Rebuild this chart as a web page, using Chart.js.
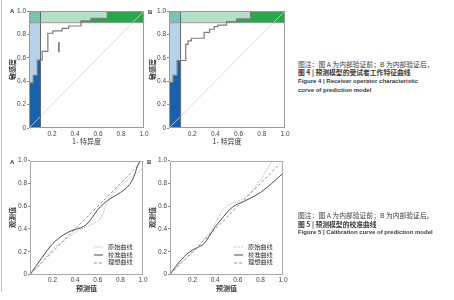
<!DOCTYPE html>
<html>
<head>
<meta charset="utf-8">
<script src="https://cdn.jsdelivr.net/npm/chart.js@4.4.1/dist/chart.umd.min.js"></script>
<style>
body { margin: 0; background: #fff; }
#page { position: relative; width: 454px; height: 300px; overflow: hidden; font-family: "Noto Sans CJK SC", "Liberation Sans", sans-serif; color: #333; }
.box { position: absolute; }
.edge { position: absolute; left: 1px; top: 0; width: 1px; height: 292px; background: #c4c4c4; }
.tag { position: absolute; font: bold 6px "Liberation Sans", sans-serif; color: #333; line-height: 8px; }
.cap { position: absolute; left: 298px; white-space: nowrap; font-size: 6.8px; line-height: 9px; color: #3a3a3a; }
.cap.b { font-weight: bold; }
.cap.en { font-family: "Liberation Sans", sans-serif; font-weight: bold; font-size: 6px; }
.legend { position: absolute; font-size: 6.2px; line-height: 7.7px; color: #333; }
.legend div { white-space: nowrap; height: 7.7px; }
.legend svg { vertical-align: middle; margin-right: 5px; }
</style>
</head>
<body>
<div id="page">
  <div class="edge"></div>

  <div class="box" style="left:0;top:0"><canvas id="rocA" width="150" height="146"></canvas></div>
  <div class="box" style="left:140px;top:0"><canvas id="rocB" width="150" height="146"></canvas></div>
  <div class="box" style="left:0;top:150px"><canvas id="calA" width="150" height="143"></canvas></div>
  <div class="box" style="left:140px;top:150px"><canvas id="calB" width="150" height="143"></canvas></div>

  <div class="tag" style="left:10px;top:7px">A</div>
  <div class="tag" style="left:148px;top:8px">B</div>
  <div class="tag" style="left:10px;top:158px">A</div>
  <div class="tag" style="left:147px;top:158px">B</div>

  <div class="legend" id="legA" style="left:94px;top:243px"></div>
  <div class="legend" id="legB" style="left:234px;top:243px"></div>

  <div class="cap" style="top:59.5px">图注：图 A 为内部验证前；B 为内部验证后，</div>
  <div class="cap b" style="top:68.2px">图 4 | 预测模型的受试者工作特征曲线</div>
  <div class="cap en" style="top:77.2px">Figure 4 | Receiver operator characteristic</div>
  <div class="cap en" style="top:86.2px">curve of prediction model</div>

  <div class="cap" style="top:210.5px">图注：图 A 为内部验证前；B 为内部验证后。</div>
  <div class="cap b" style="top:219.5px">图 5 | 预测模型的校准曲线</div>
  <div class="cap en" style="top:227.8px">Figure 5 | Calibration curve of prediction model</div>
</div>

<script>
// thresholds used for the shaded partial-AUC regions
const fprCut = 0.1;
const tprCut = 0.9;

// ROC A (internal validation before)
const rocAFpr = [0, 0, 0.037, 0.072, 0.115, 0.164, 0.207, 0.288, 0.345, 0.452, 0.538, 0.681, 1];
const rocATpr = [0, 0.385, 0.45, 0.58, 0.655, 0.81, 0.83, 0.852, 0.872, 0.915, 0.938, 1, 1];
// ROC B (internal validation after)
const rocBFpr = [0, 0, 0.035, 0.07, 0.144, 0.164, 0.193, 0.303, 0.35, 0.39, 0.42, 0.496, 0.582, 0.703, 1];
const rocBTpr = [0, 0.39, 0.449, 0.577, 0.715, 0.744, 0.767, 0.818, 0.844, 0.866, 0.88, 0.909, 0.932, 1, 1];
// text cursor left on the A panel
const cursorA = { x: 0.26, y: 0.69 };

// calibration A
const calAOrigX = [0, 0.1, 0.2, 0.3, 0.4, 0.5, 0.6, 0.64, 0.68, 0.75, 0.85, 0.9, 1.0];
const calAOrigY = [0, 0.1, 0.22, 0.3, 0.37, 0.42, 0.47, 0.52, 0.63, 0.73, 0.82, 0.86, 0.93];
const calACalX = [0, 0.1, 0.2, 0.3, 0.38, 0.45, 0.5, 0.55, 0.6, 0.65, 0.7, 0.8, 0.88, 0.92, 0.95, 0.97];
const calACalY = [0, 0.14, 0.27, 0.35, 0.39, 0.41, 0.44, 0.5, 0.57, 0.62, 0.66, 0.72, 0.79, 0.86, 0.95, 0.99];
// calibration B
const calBOrigX = [0, 0.1, 0.2, 0.25, 0.3, 0.35, 0.4, 0.45, 0.5, 0.55, 0.6, 0.7, 0.8, 0.9, 0.91];
const calBOrigY = [0, 0.11, 0.19, 0.24, 0.31, 0.37, 0.45, 0.54, 0.6, 0.625, 0.64, 0.71, 0.83, 0.99, 1.0];
const calBCalX = [0, 0.05, 0.1, 0.15, 0.2, 0.25, 0.3, 0.35, 0.4, 0.45, 0.5, 0.55, 0.6, 0.65, 0.7, 0.8, 0.9, 1.0];
const calBCalY = [0, 0.07, 0.13, 0.18, 0.215, 0.24, 0.27, 0.34, 0.42, 0.48, 0.54, 0.59, 0.62, 0.64, 0.665, 0.72, 0.8, 0.89];
// ideal line
const idealX = [0, 0.97];
const idealY = [0, 0.97];

const calLabels = ['原始曲线', '校准曲线', '理想曲线'];
const rocXTitle = '1- 特异度';
const rocYTitle = '敏感度';
const calXTitle = '预测值';
const calYTitle = '观测值';

function zip(xs, ys) {
    return xs.map((x, i) => ({ x: x, y: ys[i] }));
}

function staircase(xs, ys) {
    const pts = [{ x: xs[0], y: ys[0] }];
    for (let i = 1; i < xs.length; i++) {
        pts.push({ x: xs[i], y: ys[i - 1] });
        pts.push({ x: xs[i], y: ys[i] });
    }
    return pts;
}

const framePlugin = {
    id: 'frame',
    afterDatasetsDraw(chart, args, opts) {
        const a = chart.chartArea;
        const ctx = chart.ctx;
        ctx.save();
        ctx.strokeStyle = opts.color || '#999';
        ctx.lineWidth = 1;
        ctx.strokeRect(Math.round(a.left) + 0.5, Math.round(a.top) + 0.5,
            Math.round(a.right - a.left) - 1, Math.round(a.bottom - a.top) - 1);
        ctx.restore();
    }
};

function axis(which, title, size, weight) {
    return {
        type: 'linear',
        min: 0,
        max: 1,
        ticks: {
            stepSize: 0.2,
            padding: which === 'y' ? 1 : 2,
            color: '#444',
            autoSkip: false,
            maxRotation: 0,
            font: { family: 'Liberation Sans', size: 6.5 },
            callback: v => v === 0 ? (which === 'y' ? '0' : '') : v.toFixed(1)
        },
        grid: { display: true, drawOnChartArea: false, drawTicks: which === 'y', tickLength: 2, color: '#888' },
        border: { display: false },
        title: {
            display: true,
            text: title,
            padding: 0,
            color: '#333',
            font: { family: 'Noto Sans CJK SC', size: 7, weight: weight }
        },
        afterFit: s => {
            if (which === 'y') s.width = size; else s.height = size;
            s.paddingLeft = 0; s.paddingRight = 0; s.paddingTop = 0; s.paddingBottom = 0;
        }
    };
}

function makeChart(id, datasets, xTitle, yTitle, lay) {
    return new Chart(document.getElementById(id), {
        type: 'scatter',
        data: { datasets: datasets },
        options: {
            responsive: false,
            animation: false,
            events: [],
            layout: { padding: { left: lay.pl, top: lay.pt, right: lay.pr, bottom: 0 } },
            elements: { point: { radius: 0 } },
            plugins: {
                legend: { display: false },
                tooltip: { enabled: false },
                frame: { color: lay.frame }
            },
            scales: {
                x: axis('x', xTitle, lay.xh, lay.xWeight),
                y: axis('y', yTitle, lay.yw, 'bold')
            }
        },
        plugins: [framePlugin]
    });
}

function rocDatasets(fpr, tpr, cursor) {
    const curve = staircase(fpr, tpr);
    const low = curve.filter(p => p.x <= fprCut);
    low.push({ x: fprCut, y: low[low.length - 1].y });
    const high = curve.map(p => ({ x: p.x, y: Math.max(p.y, tprCut) }));
    const area = { showLine: true, borderWidth: 0, borderColor: 'transparent' };
    const ds = [
        Object.assign({ data: [{ x: 0, y: 1 }, { x: 1, y: 1 }], fill: { value: tprCut }, backgroundColor: '#b5e0c8', order: 9 }, area),
        Object.assign({ data: [{ x: 0, y: 1 }, { x: fprCut, y: 1 }], fill: { value: tprCut }, backgroundColor: '#79c3b3', order: 8 }, area),
        Object.assign({ data: [{ x: 0, y: tprCut }, { x: fprCut, y: tprCut }], fill: 'origin', backgroundColor: '#b6d2ea', order: 7 }, area),
        Object.assign({ data: low, fill: 'origin', backgroundColor: '#1662ad', order: 6 }, area),
        Object.assign({ data: high, fill: { value: tprCut }, backgroundColor: '#27a84b', order: 5 }, area),
        { data: [{ x: 0, y: 0 }, { x: 1, y: 1 }], showLine: true, borderColor: '#d2d2d2', borderWidth: 0.8, order: 4 },
        { data: [{ x: fprCut, y: 0 }, { x: fprCut, y: 1 }], showLine: true, borderColor: '#666', borderWidth: 1, order: 3 },
        { data: [{ x: 0, y: tprCut }, { x: 1, y: tprCut }], showLine: true, borderColor: '#999', borderWidth: 1, order: 2 },
        { data: curve, showLine: true, borderColor: '#7c7c7c', borderWidth: 1.2, order: 1 }
    ];
    if (cursor) {
        ds.push({ data: [cursor], pointStyle: 'line', rotation: 90, pointRadius: 5, borderColor: '#222', borderWidth: 1, order: 0 });
    }
    return ds;
}

function calDatasets(ox, oy, cx, cy) {
    return [
        { label: calLabels[0], data: zip(ox, oy), showLine: true, borderColor: '#a8a8a8', borderWidth: 0.9, borderDash: [1.2, 1.2], cubicInterpolationMode: 'monotone' },
        { label: calLabels[1], data: zip(cx, cy), showLine: true, borderColor: '#4a4a4a', borderWidth: 1, borderDash: [], cubicInterpolationMode: 'monotone' },
        { label: calLabels[2], data: zip(idealX, idealY), showLine: true, borderColor: '#8a8a8a', borderWidth: 0.9, borderDash: [3, 2] }
    ];
}

function buildLegend(el, datasets) {
    datasets.forEach(d => {
        const row = document.createElement('div');
        const dash = d.borderDash && d.borderDash.length ? d.borderDash.join(',') : 'none';
        row.innerHTML = '<svg width="9" height="4"><line x1="0" y1="2" x2="9" y2="2" stroke="' + d.borderColor +
            '" stroke-width="' + d.borderWidth + '" stroke-dasharray="' + dash + '"/></svg>' + d.label;
        el.appendChild(row);
    });
}

const rocLay = { pl: 8, yw: 21, pt: 11, pr: 5, xh: 18, frame: '#9a9a9a', xWeight: 'normal' };
const calLay = { pl: 8, yw: 22, pt: 10.7, pr: 7, xh: 18.5, frame: '#aaaaaa', xWeight: 'bold' };

makeChart('rocA', rocDatasets(rocAFpr, rocATpr, cursorA), rocXTitle, rocYTitle, rocLay);
makeChart('rocB', rocDatasets(rocBFpr, rocBTpr, null), rocXTitle, rocYTitle, rocLay);

const calADs = calDatasets(calAOrigX, calAOrigY, calACalX, calACalY);
const calBDs = calDatasets(calBOrigX, calBOrigY, calBCalX, calBCalY);
makeChart('calA', calADs, calXTitle, calYTitle, calLay);
makeChart('calB', calBDs, calXTitle, calYTitle, calLay);
buildLegend(document.getElementById('legA'), calADs);
buildLegend(document.getElementById('legB'), calBDs);
</script>
</body>
</html>
